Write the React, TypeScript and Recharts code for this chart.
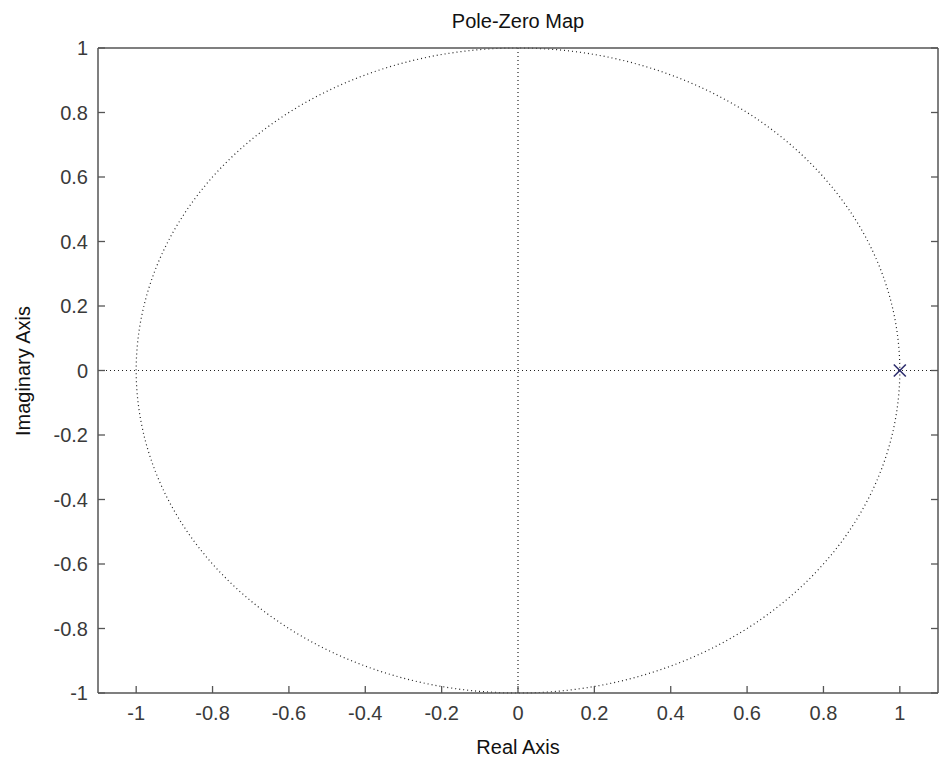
import React from 'react';
import {
  ScatterChart,
  Scatter,
  XAxis,
  YAxis,
  ReferenceLine,
  ReferenceArea
} from 'recharts';

// values
const realTicks = [-1, -0.8, -0.6, -0.4, -0.2, 0, 0.2, 0.4, 0.6, 0.8, 1];
const imagTicks = [-1, -0.8, -0.6, -0.4, -0.2, 0, 0.2, 0.4, 0.6, 0.8, 1];
const realDomain = [-1.1, 1.1];
const imagDomain = [-1, 1];
const poles = [{ re: 1, im: 0 }];
const unitCircle = { re1: -1, re2: 1, im1: -1, im2: 1 };

const W = 939;
const H = 758;
const FONT = '"Liberation Sans", Arial, Helvetica, sans-serif';
const TEXT = '#3a3a3a';
const AXIS = '#555';
const TICK_LEN = 7;

const fmt = (v: number) => String(Math.round(v * 10) / 10);

const BottomTick = ({ x, y, payload }: any) => (
  <g>
    <line x1={x} x2={x} y1={y} y2={y - TICK_LEN} stroke={AXIS} strokeWidth={1.3} />
    <text x={x} y={y + 27} textAnchor="middle" fill={TEXT} fontSize={20} fontFamily={FONT}>
      {fmt(payload.value)}
    </text>
  </g>
);

const TopTick = ({ x, y }: any) => (
  <line x1={x} x2={x} y1={y} y2={y + TICK_LEN} stroke={AXIS} strokeWidth={1.3} />
);

const LeftTick = ({ x, y, payload }: any) => (
  <g>
    <line x1={x} x2={x + TICK_LEN} y1={y} y2={y} stroke={AXIS} strokeWidth={1.3} />
    <text x={x - 10} y={y + 7} textAnchor="end" fill={TEXT} fontSize={20} fontFamily={FONT}>
      {fmt(payload.value)}
    </text>
  </g>
);

const RightTick = ({ x, y }: any) => (
  <line x1={x} x2={x - TICK_LEN} y1={y} y2={y} stroke={AXIS} strokeWidth={1.3} />
);

const PoleMark = ({ cx, cy }: any) => (
  <g stroke="#2e2e6e" strokeWidth={1.6}>
    <line x1={cx - 6} y1={cy - 6} x2={cx + 6} y2={cy + 6} />
    <line x1={cx - 6} y1={cy + 6} x2={cx + 6} y2={cy - 6} />
  </g>
);

const CircleShape = ({ x, y, width, height }: any) => (
  <ellipse
    cx={x + width / 2}
    cy={y + height / 2}
    rx={width / 2}
    ry={height / 2}
    fill="none"
    stroke="#222"
    strokeWidth={1.2}
    strokeDasharray="1 3"
  />
);

export default function App() {
  return (
    <div style={{ position: 'relative', width: W, height: H, background: '#fff' }}>
      <style>{'body{margin:0}'}</style>
      <ScatterChart
        width={W}
        height={H}
        margin={{ top: 47, right: 0, bottom: 35, left: 58 }}
      >
        <XAxis
          type="number"
          dataKey="re"
          domain={realDomain}
          ticks={realTicks}
          height={30}
          tickSize={0}
          tickMargin={0}
          tick={<BottomTick />}
          axisLine={{ stroke: AXIS, strokeWidth: 1.5 }}
          allowDataOverflow
        />
        <XAxis
          xAxisId="top"
          orientation="top"
          type="number"
          domain={realDomain}
          ticks={realTicks}
          height={1}
          tickSize={0}
          tickMargin={0}
          tick={<TopTick />}
          axisLine={{ stroke: AXIS, strokeWidth: 1.5 }}
          allowDataOverflow
        />
        <YAxis
          type="number"
          dataKey="im"
          domain={imagDomain}
          ticks={imagTicks}
          width={40}
          tickSize={0}
          tickMargin={0}
          tick={<LeftTick />}
          axisLine={{ stroke: AXIS, strokeWidth: 1.5 }}
          allowDataOverflow
        />
        <YAxis
          yAxisId="right"
          orientation="right"
          type="number"
          domain={imagDomain}
          ticks={imagTicks}
          width={1}
          tickSize={0}
          tickMargin={0}
          tick={<RightTick />}
          axisLine={{ stroke: AXIS, strokeWidth: 1.5 }}
          allowDataOverflow
        />
        <ReferenceLine x={0} stroke="#222" strokeWidth={1.2} strokeDasharray="1 3" />
        <ReferenceLine y={0} stroke="#222" strokeWidth={1.2} strokeDasharray="1 3" />
        <ReferenceArea
          x1={unitCircle.re1}
          x2={unitCircle.re2}
          y1={unitCircle.im1}
          y2={unitCircle.im2}
          shape={CircleShape}
        />
        <Scatter data={poles} shape={PoleMark} isAnimationActive={false} />
      </ScatterChart>
      <svg
        width={W}
        height={H}
        style={{ position: 'absolute', left: 0, top: 0, pointerEvents: 'none' }}
      >
        <text x={518} y={28} textAnchor="middle" fontSize={20} fill="#111" fontFamily={FONT}>
          Pole-Zero Map
        </text>
        <text x={518} y={754} textAnchor="middle" fontSize={20} fill="#111" fontFamily={FONT}>
          Real Axis
        </text>
        <text
          transform="translate(30,371) rotate(-90)"
          textAnchor="middle"
          fontSize={20}
          fill="#111"
          fontFamily={FONT}
        >
          Imaginary Axis
        </text>
      </svg>
    </div>
  );
}
